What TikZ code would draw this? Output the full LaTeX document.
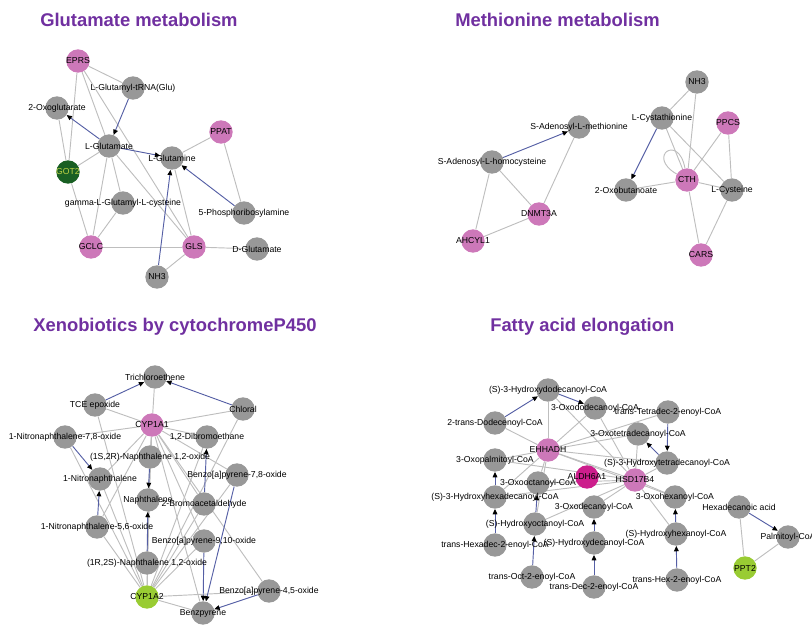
\documentclass[tikz,border=0pt]{standalone}
\usepackage{fontspec}
\setmainfont{Liberation Sans}
\usetikzlibrary{arrows.meta}
\pgfdeclarelayer{bg}
\pgfsetlayers{bg,main}
\definecolor{metgray}{RGB}{152,152,152}
\definecolor{genepink}{RGB}{205,120,185}
\definecolor{genemag}{RGB}{204,30,140}
\definecolor{genegreen}{RGB}{153,204,51}
\definecolor{darkgreen}{RGB}{25,95,35}
\definecolor{gotext}{RGB}{190,210,70}
\definecolor{edgegray}{RGB}{190,190,190}
\definecolor{rxblue}{RGB}{85,95,165}
\definecolor{titlepurple}{RGB}{112,48,160}
\tikzset{
  met/.style={circle, fill=metgray, minimum size=17.5pt, inner sep=0pt},
  gene/.style={met, fill=genepink},
  lbl/.style={font=\fontsize{6.5}{7}\selectfont, text=black, inner sep=0pt},
  rel/.style={draw=edgegray, line width=0.7pt},
  rx/.style={draw=rxblue, line width=0.7pt, -{Triangle[length=4pt,width=3.5pt,color=black]}},
  ttl/.style={font=\bfseries\fontsize{13.8}{15}\selectfont, text=titlepurple, anchor=west, inner sep=0pt}
}
\begin{document}
\begin{tikzpicture}[x=0.75pt,y=-0.75pt]
\path[use as bounding box] (0,0) rectangle (812,634);
% titles
\node[ttl] (t1) at (40,20) {Glutamate metabolism};
\node[ttl] (t2) at (455,20) {Methionine metabolism};
\node[ttl] (t3) at (33,327) {Xenobiotics by cytochromeP450};
\node[ttl] (t4) at (490,327) {Fatty acid elongation};

% ---------- Glutamate ----------
\node[gene, label={[lbl]center:EPRS}] (eprs) at (78,61) {};
\node[met, label={[lbl]center:L-Glutamyl-tRNA(Glu)}] (trna) at (133,88) {};
\node[met, label={[lbl]center:2-Oxoglutarate}] (og) at (57,108) {};
\node[met, label={[lbl]center:L-Glutamate}] (glu) at (109,146) {};
\node[met, label={[lbl]center:L-Glutamine}] (gln) at (172,158) {};
\node[gene, label={[lbl]center:PPAT}] (ppat) at (221,132) {};
\node[met, fill=darkgreen, label={[lbl,text=gotext]center:GOT2}] (got2) at (68,172) {};
\node[met, label={[lbl]center:gamma-L-Glutamyl-L-cysteine}] (gam) at (123,203) {};
\node[gene, label={[lbl]center:GCLC}] (gclc) at (91,247) {};
\node[gene, label={[lbl]center:GLS}] (gls) at (194,247) {};
\node[met, label={[lbl]center:NH3}] (nha) at (157,277) {};
\node[met, label={[lbl]center:5-Phosphoribosylamine}] (pra) at (244,213) {};
\node[met, label={[lbl]center:D-Glutamate}] (dglu) at (257,249) {};
\begin{pgfonlayer}{bg}
\draw[rel] (eprs) -- (trna);
\draw[rel] (eprs) -- (got2);
\draw[rel] (eprs) -- (glu);
\draw[rel] (eprs) -- (gls);
\draw[rel] (og) -- (got2);
\draw[rel] (got2) -- (glu);
\draw[rel] (got2) -- (gclc);
\draw[rel] (glu) -- (gclc);
\draw[rel] (glu) -- (gam);
\draw[rel] (glu) -- (gls);
\draw[rel] (gam) -- (gclc);
\draw[rel] (gclc) -- (gls);
\draw[rel] (gls) -- (gln);
\draw[rel] (gls) -- (nha);
\draw[rel] (gls) -- (dglu);
\draw[rel] (ppat) -- (gln);
\draw[rel] (ppat) -- (pra);
\draw[rx] (trna) -- (glu);
\draw[rx] (glu) -- (og);
\draw[rx] (glu) -- (gln);
\draw[rx] (pra) -- (gln);
\draw[rx] (nha) -- (gln);
\end{pgfonlayer}

% ---------- Methionine ----------
\node[met, label={[lbl]center:S-Adenosyl-L-methionine}] (sam) at (579,127) {};
\node[met, label={[lbl]center:S-Adenosyl-L-homocysteine}] (sah) at (492,162) {};
\node[gene, label={[lbl]center:DNMT3A}] (dnmt) at (539,214) {};
\node[gene, label={[lbl]center:AHCYL1}] (ahcy) at (473,241) {};
\node[met, label={[lbl]center:NH3}] (nhb) at (697,82) {};
\node[met, label={[lbl]center:L-Cystathionine}] (cyst) at (662,118) {};
\node[gene, label={[lbl]center:PPCS}] (ppcs) at (728,123) {};
\node[gene, label={[lbl]center:CTH}] (cth) at (687,180) {};
\node[met, label={[lbl]center:2-Oxobutanoate}] (oxb) at (626,190) {};
\node[met, label={[lbl]center:L-Cysteine}] (lcys) at (732,190) {};
\node[gene, label={[lbl]center:CARS}] (cars) at (701,255) {};
\begin{pgfonlayer}{bg}
\draw[rx] (sah) -- (sam);
\draw[rel] (sah) -- (dnmt);
\draw[rel] (sah) -- (ahcy);
\draw[rel] (dnmt) -- (sam);
\draw[rel] (ahcy) -- (dnmt);
\draw[rel] (nhb) -- (cyst);
\draw[rel] (nhb) -- (cth);
\draw[rx] (cyst) -- (oxb);
\draw[rel] (cyst) -- (cth);
\draw[rel] (cyst) -- (lcys);
\draw[rel] (cth) to[out=150, in=100, looseness=9] (cth);
\draw[rel] (cth) -- (oxb);
\draw[rel] (cth) -- (ppcs);
\draw[rel] (cth) -- (lcys);
\draw[rel] (cth) -- (cars);
\draw[rel] (ppcs) -- (lcys);
\draw[rel] (lcys) -- (cars);
\end{pgfonlayer}

% ---------- Xenobiotics ----------
\node[met, label={[lbl]center:Trichloroethene}] (tce) at (155,377) {};
\node[met, label={[lbl]center:TCE epoxide}] (tceo) at (95,405) {};
\node[gene, label={[lbl]center:CYP1A1}] (cypa) at (152,425) {};
\node[met, label={[lbl]center:1-Nitronaphthalene-7,8-oxide}] (nn78) at (65,437) {};
\node[met, label={[lbl]center:(1S,2R)-Naphthalene 1,2-oxide}] (n1s) at (150,457) {};
\node[met, label={[lbl]center:1-Nitronaphthalene}] (nn) at (100,479) {};
\node[met, label={[lbl]center:Naphthalene}] (nap) at (148,500) {};
\node[met, label={[lbl]center:1-Nitronaphthalene-5,6-oxide}] (nn56) at (97,527) {};
\node[met, label={[lbl]center:(1R,2S)-Naphthalene 1,2-oxide}] (n1r) at (147,563) {};
\node[met, fill=genegreen, label={[lbl]center:CYP1A2}] (cypb) at (147,597) {};
\node[met, label={[lbl]center:Chloral}] (chl) at (243,409) {};
\node[met, label={[lbl]center:1,2-Dibromoethane}] (dbe) at (207,437) {};
\node[met, label={[lbl]center:Benzo{[a]}pyrene-7,8-oxide}] (bp78) at (237,475) {};
\node[met, label={[lbl]center:2-Bromoacetaldehyde}] (bra) at (204,504) {};
\node[met, label={[lbl]center:Benzo{[a]}pyrene-9,10-oxide}] (bp910) at (204,541) {};
\node[met, label={[lbl]center:Benzo{[a]}pyrene-4,5-oxide}] (bp45) at (269,591) {};
\node[met, label={[lbl]center:Benzpyrene}] (bzp) at (203,613) {};
\begin{pgfonlayer}{bg}
\foreach \n in {tce,tceo,chl,nn78,n1s,dbe,nn,nap,nn56,bra,bp78,bp910,bp45,bzp,n1r}
  \draw[rel] (cypa) -- (\n);
\foreach \n in {tceo,nn78,nn,nn56,n1s,nap,n1r,dbe,bra,bp78,bp910,bp45,bzp,chl}
  \draw[rel] (cypb) -- (\n);
\draw[rx] (tceo) -- (tce);
\draw[rx] (chl) -- (tce);
\draw[rx] (nn78) -- (nn);
\draw[rx] (nn56) -- (nn);
\draw[rx] (n1s) -- (nap);
\draw[rx] (n1r) -- (nap);
\draw[rx] (bra) -- (dbe);
\draw[rx] (bp910) -- (bzp);
\draw[rx] (bp78) -- (bzp);
\draw[rx] (bp45) -- (bzp);
\end{pgfonlayer}

% ---------- Fatty acid ----------
\node[met, label={[lbl]center:(S)-3-Hydroxydodecanoyl-CoA}] (shdd) at (548,390) {};
\node[met, label={[lbl]center:3-Oxododecanoyl-CoA}] (oxdd) at (595,408) {};
\node[met, label={[lbl]center:2-trans-Dodecenoyl-CoA}] (tdd) at (495,423) {};
\node[met, label={[lbl]center:trans-Tetradec-2-enoyl-CoA}] (ttd) at (668,412) {};
\node[met, label={[lbl]center:3-Oxotetradecanoyl-CoA}] (oxtd) at (638,434) {};
\node[gene, label={[lbl]center:EHHADH}] (ehh) at (548,450) {};
\node[met, label={[lbl]center:3-Oxopalmitoyl-CoA}] (oxp) at (495,460) {};
\node[met, label={[lbl]center:(S)-3-Hydroxytetradecanoyl-CoA}] (shtd) at (667,463) {};
\node[met, fill=genemag, label={[lbl]center:ALDH6A1}] (aldh) at (587,477) {};
\node[gene, label={[lbl]center:HSD17B4}] (hsd) at (635,480) {};
\node[met, label={[lbl]center:3-Oxooctanoyl-CoA}] (oxo) at (538,483) {};
\node[met, label={[lbl]center:(S)-3-Hydroxyhexadecanoyl-CoA}] (shhd) at (495,497) {};
\node[met, label={[lbl]center:3-Oxohexanoyl-CoA}] (oxh) at (675,497) {};
\node[met, label={[lbl]center:3-Oxodecanoyl-CoA}] (oxd) at (594,507) {};
\node[met, label={[lbl]center:Hexadecanoic acid}] (hda) at (739,507) {};
\node[met, label={[lbl]center:(S)-Hydroxyoctanoyl-CoA}] (sho) at (535,524) {};
\node[met, label={[lbl]center:(S)-Hydroxyhexanoyl-CoA}] (shh) at (676,534) {};
\node[met, label={[lbl]center:Palmitoyl-CoA}] (pal) at (788,537) {};
\node[met, label={[lbl]center:(S)-Hydroxydecanoyl-CoA}] (shd) at (594,543) {};
\node[met, label={[lbl]center:trans-Hexadec-2-enoyl-CoA}] (thd) at (495,545) {};
\node[met, fill=genegreen, label={[lbl]center:PPT2}] (ppt) at (745,568) {};
\node[met, label={[lbl]center:trans-Oct-2-enoyl-CoA}] (toc) at (532,577) {};
\node[met, label={[lbl]center:trans-Hex-2-enoyl-CoA}] (thx) at (677,580) {};
\node[met, label={[lbl]center:trans-Dec-2-enoyl-CoA}] (tdc) at (594,587) {};
\begin{pgfonlayer}{bg}
\foreach \n in {shdd,oxdd,tdd,ttd,oxtd,shtd,oxp,shhd,oxo,sho,hsd,oxh}
  \draw[rel] (ehh) -- (\n);
\foreach \n in {shdd,oxdd,oxtd,shtd,oxp,shhd,oxo,oxd,oxh,sho,shh}
  \draw[rel] (hsd) -- (\n);
\draw[rel] (ppt) -- (hda);
\draw[rel] (ppt) -- (pal);
\draw[rx] (tdd) -- (shdd);
\draw[rx] (shdd) -- (oxdd);
\draw[rx] (ttd) -- (shtd);
\draw[rx] (shtd) -- (oxtd);
\draw[rx] (shhd) -- (oxp);
\draw[rx] (thd) -- (shhd);
\draw[rx] (sho) -- (oxo);
\draw[rx] (toc) -- (sho);
\draw[rx] (shd) -- (oxd);
\draw[rx] (tdc) -- (shd);
\draw[rx] (shh) -- (oxh);
\draw[rx] (thx) -- (shh);
\draw[rx] (hda) -- (pal);
\end{pgfonlayer}
\end{tikzpicture}
\end{document}
